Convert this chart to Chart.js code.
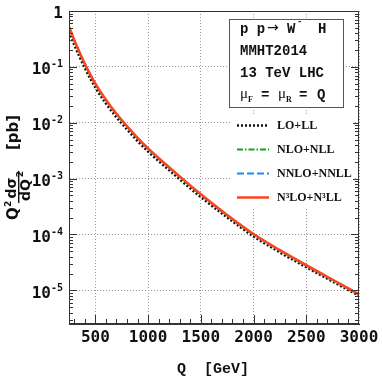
<!DOCTYPE html>
<html lang="en">
<head>
<meta charset="UTF-8">
<title>pp → W⁻H invariant mass distribution</title>
<script src="https://cdn.jsdelivr.net/npm/chart.js"></script>
<style>
  body { margin: 0; background: #fff; }
  #wrap { width: 382px; height: 382px; }
</style>
</head>
<body>
<div id="wrap"><canvas id="chart" width="382" height="382"></canvas></div>
<script>
  // values (Q in GeV, Q^2 dsigma/dQ^2 in pb)
  const qValues = [250, 300, 350, 400, 450, 500, 600, 700, 800, 900, 1000, 1250, 1500, 1750, 2000, 2250, 2500, 2750, 3000];
  const loLL = [0.425, 0.248, 0.151, 0.0953, 0.0626, 0.0426, 0.0221, 0.0125, 0.00758, 0.0047, 0.00305, 0.001168, 4.67e-4, 2.02e-4, 9.23e-5, 4.78e-5, 2.59e-5, 1.44e-5, 8.0e-6];
  const nloNLL = [0.512, 0.2945, 0.1775, 0.1107, 0.0722, 0.0488, 0.02505, 0.01409, 0.00849, 0.00524, 0.00338, 0.001287, 5.12e-4, 2.18e-4, 9.95e-5, 5.12e-5, 2.75e-5, 1.51e-5, 8.3e-6];
  const nnloNNLL = [0.522, 0.3005, 0.181, 0.1129, 0.0737, 0.0498, 0.02557, 0.01438, 0.00867, 0.00534, 0.00345, 0.001313, 5.22e-4, 2.23e-4, 1.015e-4, 5.22e-5, 2.81e-5, 1.54e-5, 8.46e-6];
  const n3loN3LL = [0.525, 0.302, 0.182, 0.1135, 0.0741, 0.0501, 0.0257, 0.01445, 0.00871, 0.00537, 0.00347, 0.00132, 5.25e-4, 2.24e-4, 1.02e-4, 5.25e-5, 2.82e-5, 1.55e-5, 8.5e-6];

  const seriesNames = ['LO+LL', 'NLO+NLL', 'NNLO+NNLL', 'N³LO+N³LL'];
  const xTicks = [500, 1000, 1500, 2000, 2500, 3000];
  const yTicks = [1e-5, 1e-4, 1e-3, 1e-2, 1e-1, 1];
  const yTickBase = ['10', '10', '10', '10', '10', '1'];
  const yTickExp = ['-5', '-4', '-3', '-2', '-1', ''];
  const infoLines = ['MMHT2014', '13 TeV LHC'];

  const toPoints = arr => qValues.map((q, i) => ({ x: q, y: arr[i] }));

  // frame, inner ticks, tick labels, axis titles, text box and legend
  const decorations = {
    id: 'decorations',
    afterDraw(chart) {
      const { ctx, chartArea: a, scales: { x, y } } = chart;
      ctx.save();

      // frame
      ctx.strokeStyle = '#333';
      ctx.lineWidth = 1;
      ctx.strokeRect(Math.round(a.left) + 0.5, Math.round(a.top) + 0.5,
        Math.round(a.right - a.left) - 1, Math.round(a.bottom - a.top) - 1);

      // ticks pointing inward
      ctx.beginPath();
      for (let v = 300; v < 3000; v += 100) {
        const px = Math.round(x.getPixelForValue(v)) + 0.5;
        const len = v % 500 === 0 ? 9 : 5;
        ctx.moveTo(px, a.bottom);
        ctx.lineTo(px, a.bottom - len);
      }
      for (let e = -6; e <= 0; e++) {
        for (let m = 1; m <= 9; m++) {
          const v = m * Math.pow(10, e);
          if (v < y.min * 0.999 || v > y.max * 1.001) continue;
          const py = Math.round(y.getPixelForValue(v)) + 0.5;
          const len = m === 1 ? 8 : 4;
          ctx.moveTo(a.left, py); ctx.lineTo(a.left + len, py);
          ctx.moveTo(a.right, py); ctx.lineTo(a.right - len, py);
        }
      }
      ctx.stroke();

      // tick labels
      ctx.fillStyle = '#111';
      ctx.font = 'bold 16px "DejaVu Sans Mono"';
      ctx.textAlign = 'center';
      ctx.textBaseline = 'middle';
      xTicks.forEach(v => ctx.fillText(String(v), x.getPixelForValue(v), 338));

      ctx.textAlign = 'right';
      yTicks.forEach((v, i) => {
        const py = y.getPixelForValue(v);
        let right = 63;
        if (yTickExp[i]) {
          ctx.font = 'bold 10px "DejaVu Sans Mono"';
          ctx.fillText(yTickExp[i], right, py - 2);
          right -= ctx.measureText(yTickExp[i]).width;
        }
        ctx.font = 'bold 16px "DejaVu Sans Mono"';
        ctx.fillText(yTickBase[i], right, py + 3);
      });

      // x title
      ctx.textAlign = 'center';
      ctx.font = 'bold 15px "Liberation Mono"';
      ctx.fillText('Q  [GeV]', 213, 369);

      // y title (rotated)
      ctx.save();
      ctx.translate(18, 250);
      ctx.rotate(-Math.PI / 2);
      ctx.textBaseline = 'alphabetic';
      ctx.textAlign = 'left';
      ctx.font = 'bold 15px "DejaVu Sans"';
      ctx.fillText('Q', 30, 0);
      ctx.font = 'bold 9px "DejaVu Sans"';
      ctx.fillText('2', 43, -7);
      ctx.textAlign = 'center';
      ctx.font = 'bold 14px "DejaVu Sans"';
      ctx.fillText('dσ', 62, -2);
      ctx.fillText('dQ', 60, 12);
      ctx.font = 'bold 9px "DejaVu Sans"';
      ctx.fillText('2', 76, 5);
      ctx.fillRect(47, 0, 32, 1.4);
      ctx.textAlign = 'left';
      ctx.font = 'bold 15px "DejaVu Sans"';
      ctx.fillText('[pb]', 100, 0);
      ctx.restore();

      // process box
      ctx.fillStyle = '#fff';
      ctx.fillRect(229, 19, 114, 88);
      ctx.strokeStyle = '#555';
      ctx.strokeRect(229.5, 19.5, 114, 88);
      ctx.fillStyle = '#111';
      ctx.textAlign = 'left';
      ctx.textBaseline = 'middle';
      ctx.font = 'bold 14px "Liberation Mono"';
      ctx.fillText('p p', 240, 29);
      ctx.font = '14px "DejaVu Sans"';
      ctx.fillText('→', 267, 28);
      ctx.font = 'bold 14px "Liberation Mono"';
      ctx.fillText('W', 287, 29);
      ctx.fillText('H', 318, 29);
      ctx.font = 'bold 9px "Liberation Mono"';
      ctx.fillText('-', 297, 22);
      ctx.font = 'bold 14px "Liberation Mono"';
      ctx.fillText(infoLines[0], 240, 51);
      ctx.fillText(infoLines[1], 240, 73);
      ctx.font = '15px "Liberation Serif"';
      ctx.fillText('μ', 240, 94);
      ctx.fillText('μ', 278, 94);
      ctx.font = 'bold 14px "Liberation Mono"';
      ctx.fillText('=', 261, 95);
      ctx.fillText('=', 299, 95);
      ctx.fillText('Q', 317, 95);
      ctx.font = 'bold 8px "Liberation Serif"';
      ctx.fillText('F', 248, 100);
      ctx.fillText('R', 286, 100);

      // legend
      ctx.fillStyle = '#fff';
      ctx.fillRect(231, 116, 122, 93);
      const order = [3, 2, 1, 0];
      const rows = [125, 149, 173, 197];
      order.forEach((di, r) => {
        const ds = chart.data.datasets[di];
        ctx.save();
        ctx.strokeStyle = ds.borderColor;
        ctx.lineWidth = ds.borderWidth;
        ctx.setLineDash(ds.borderDash || []);
        ctx.beginPath();
        ctx.moveTo(237, rows[r] + 0.5);
        ctx.lineTo(269, rows[r] + 0.5);
        ctx.stroke();
        ctx.restore();
        ctx.fillStyle = '#111';
        ctx.font = 'bold 12px "Liberation Serif"';
        ctx.fillText(ds.label, 277, rows[r] + 1);
      });

      ctx.restore();
    }
  };

  new Chart(document.getElementById('chart'), {
    type: 'line',
    data: {
      datasets: [
        { label: seriesNames[3], data: toPoints(n3loN3LL), borderColor: '#ff4420', borderWidth: 2.5, order: 0 },
        { label: seriesNames[2], data: toPoints(nnloNNLL), borderColor: '#1e88ff', borderWidth: 2, borderDash: [7, 3], order: 1 },
        { label: seriesNames[1], data: toPoints(nloNLL), borderColor: '#10a810', borderWidth: 2, borderDash: [6, 2, 1.5, 2], order: 2 },
        { label: seriesNames[0], data: toPoints(loLL), borderColor: '#111', borderWidth: 2.5, borderDash: [2, 2], order: 3 }
      ]
    },
    options: {
      responsive: false,
      animation: false,
      layout: { padding: { left: 69, top: 11, right: 23, bottom: 58 } },
      plugins: { legend: { display: false }, tooltip: { enabled: false } },
      elements: {
        point: { radius: 0 },
        line: { cubicInterpolationMode: 'monotone', fill: false }
      },
      scales: {
        x: {
          type: 'linear', min: 250, max: 3000,
          afterBuildTicks: s => { s.ticks = xTicks.map(v => ({ value: v })); },
          ticks: { display: false },
          grid: { color: '#999', lineWidth: 1, drawTicks: false },
          border: { color: '#333', width: 1, dash: [1, 2] }
        },
        y: {
          type: 'logarithmic', min: 2.5e-6, max: 1,
          afterBuildTicks: s => { s.ticks = yTicks.map(v => ({ value: v })); },
          ticks: { display: false },
          grid: { color: '#999', lineWidth: 1, drawTicks: false },
          border: { color: '#333', width: 1, dash: [1, 2] }
        }
      }
    },
    plugins: [decorations]
  });
</script>
</body>
</html>
